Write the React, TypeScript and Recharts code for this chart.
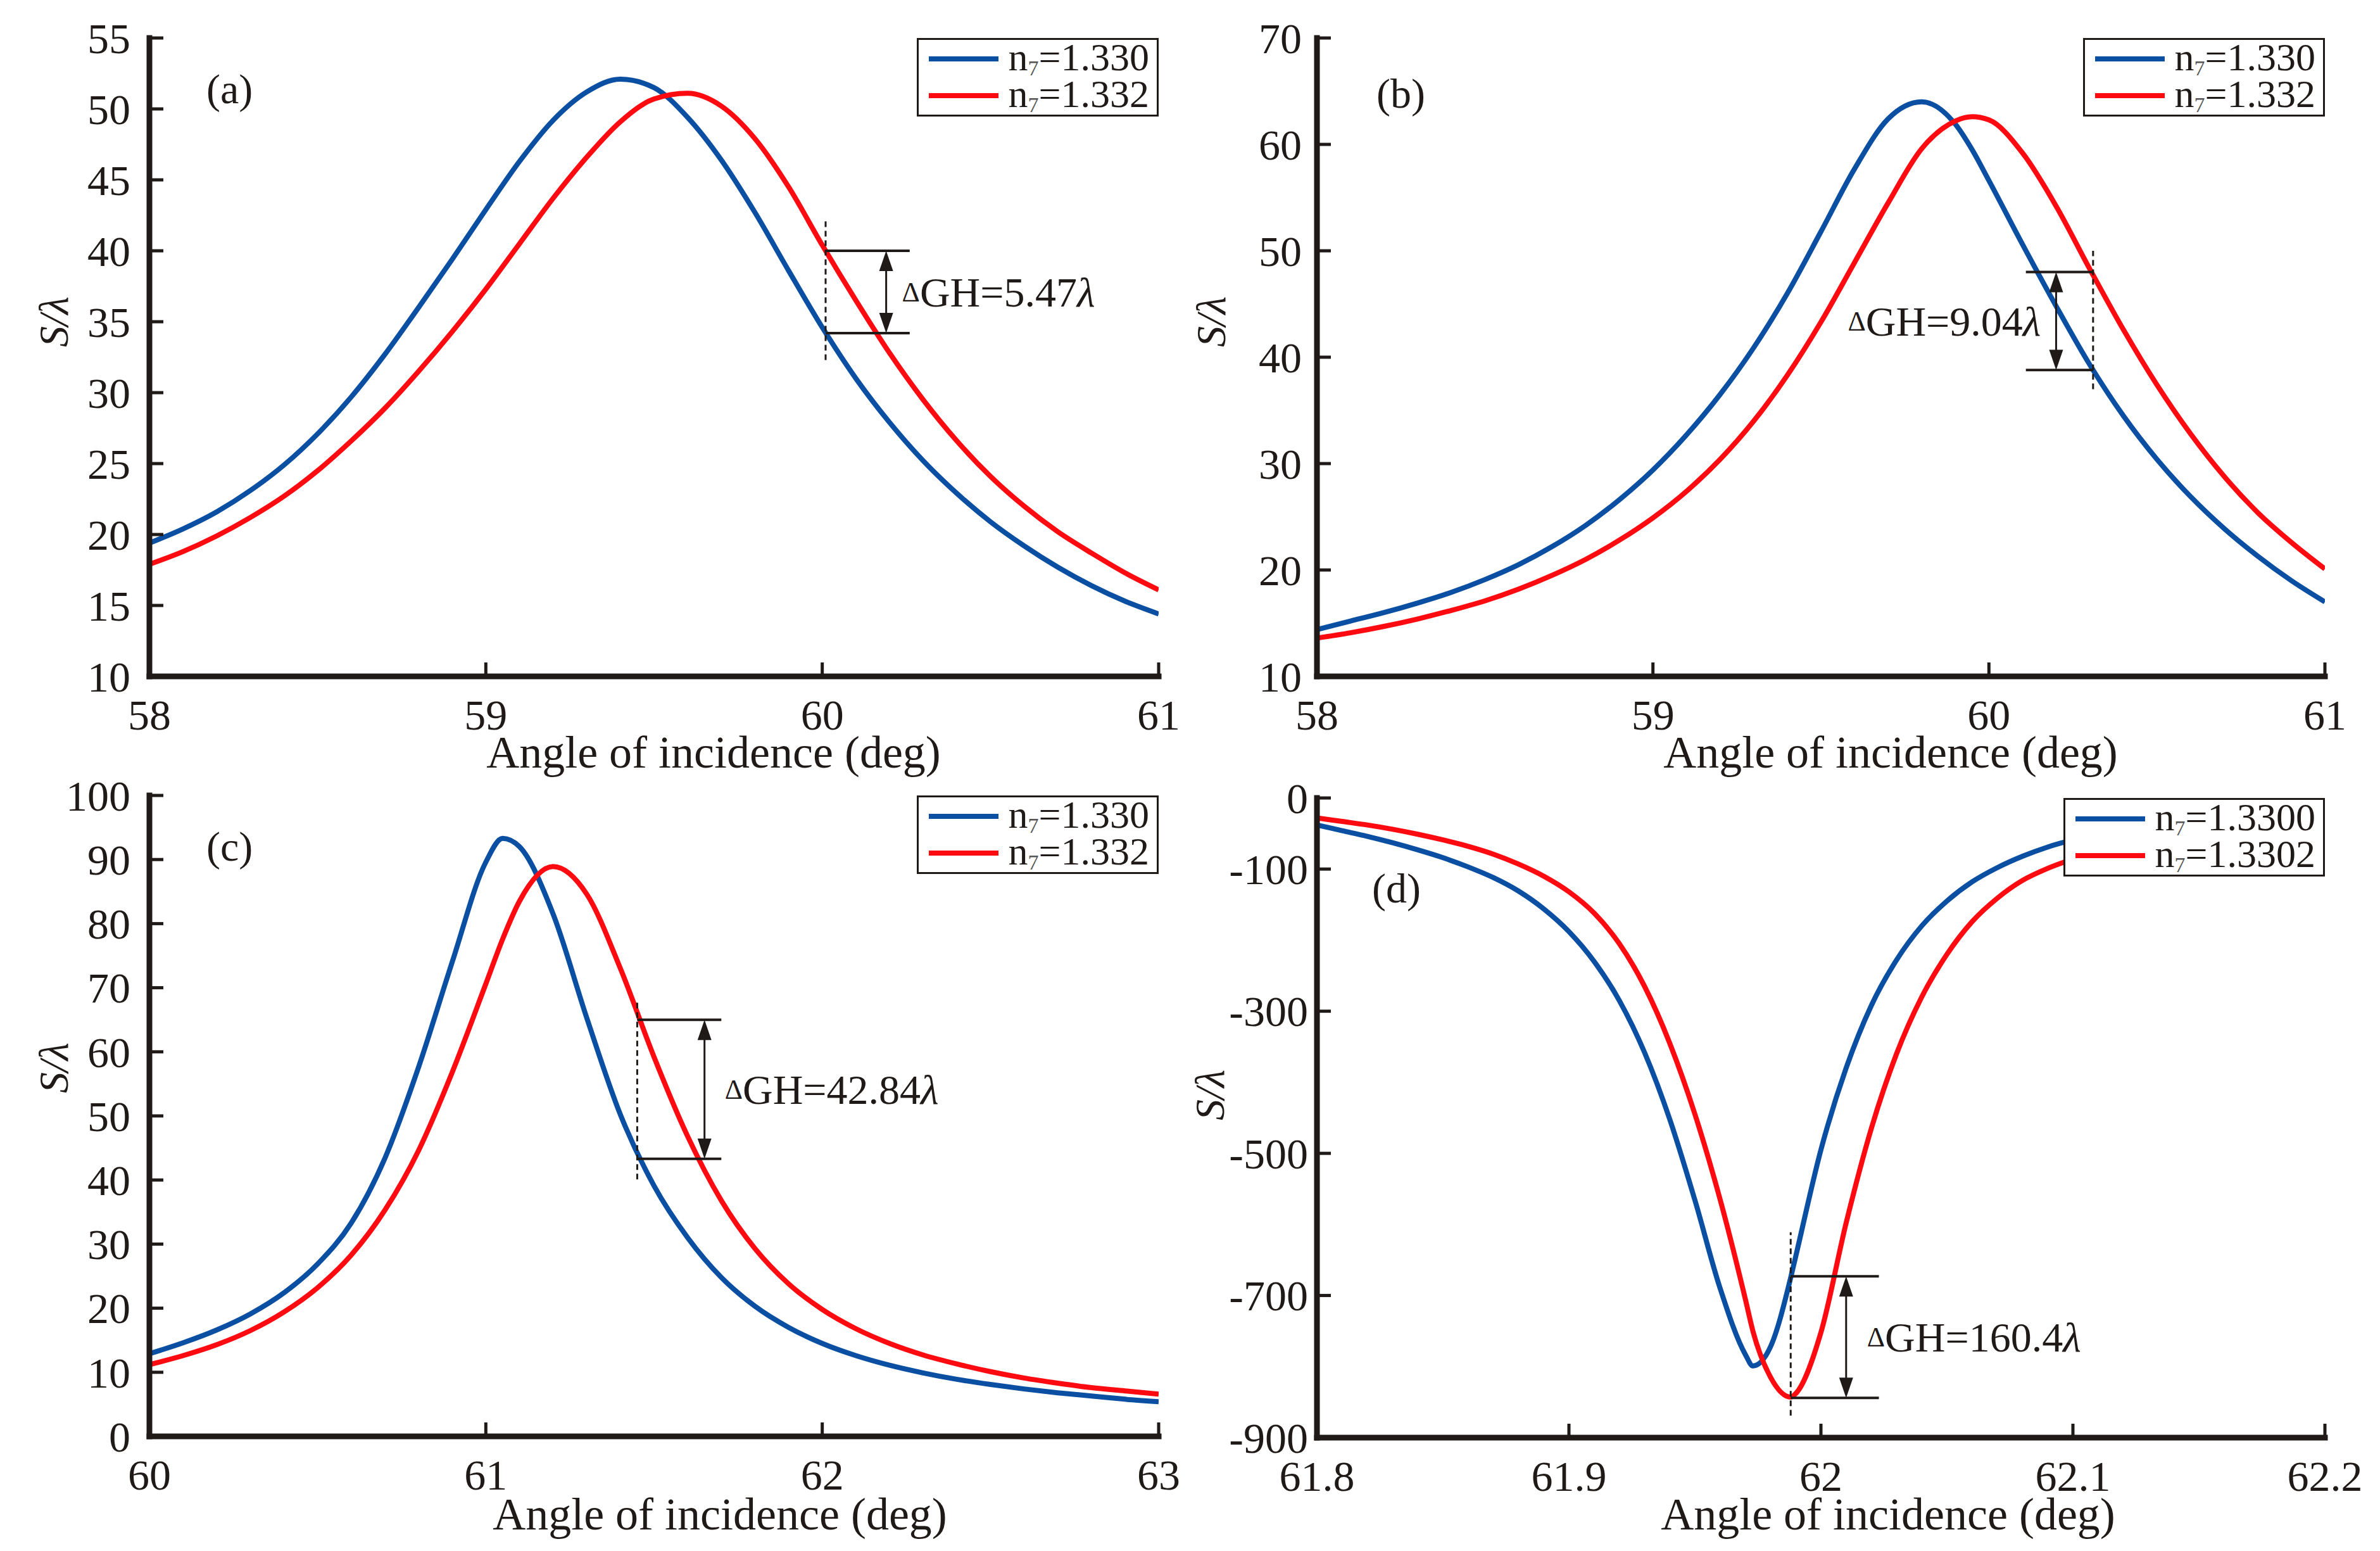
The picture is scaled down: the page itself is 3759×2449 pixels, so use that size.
import React from 'react';
import { LineChart, Line, XAxis, YAxis, ReferenceLine, Legend } from 'recharts';

const SERIF = "'Liberation Serif', 'Times New Roman', serif";
const INK = '#1f1a17';
const BLUE = '#0b4fa3';
const RED = '#ff0a10';

// panel (a)
const anglesA = [58.0, 58.1, 58.2, 58.3, 58.4, 58.5, 58.6, 58.7, 58.8, 58.9, 59.0, 59.1, 59.2, 59.3, 59.4, 59.5, 59.6, 59.7, 59.8, 59.9, 60.0, 60.1, 60.2, 60.3, 60.4, 60.5, 60.6, 60.7, 60.8, 60.9, 61.0];
const blueA = [19.4, 20.4, 21.6, 23.1, 24.9, 27.1, 29.7, 32.7, 36.0, 39.4, 42.9, 46.3, 49.2, 51.2, 52.1, 51.5, 49.4, 46.4, 42.7, 38.6, 34.6, 31.0, 27.9, 25.2, 22.9, 20.9, 19.2, 17.7, 16.4, 15.3, 14.4];
const redA = [17.9, 18.8, 19.9, 21.2, 22.7, 24.5, 26.6, 28.9, 31.5, 34.3, 37.3, 40.5, 43.7, 46.6, 49.1, 50.7, 51.1, 50.2, 47.9, 44.5, 40.4, 36.5, 32.8, 29.5, 26.6, 24.1, 22.0, 20.2, 18.7, 17.3, 16.1];

// panel (b)
const anglesB = [58.0, 58.1, 58.2, 58.3, 58.4, 58.5, 58.6, 58.7, 58.8, 58.9, 59.0, 59.1, 59.2, 59.3, 59.4, 59.5, 59.6, 59.7, 59.8, 59.9, 59.95, 60.0, 60.1, 60.2, 60.3, 60.4, 60.5, 60.6, 60.7, 60.8, 60.9, 61.0];
const blueB = [14.4, 15.2, 16.0, 16.9, 17.9, 19.1, 20.5, 22.2, 24.2, 26.6, 29.4, 32.7, 36.5, 40.9, 46.0, 51.8, 57.7, 62.4, 64.0, 61.9, 59.5, 56.6, 50.6, 44.8, 39.3, 34.5, 30.4, 26.9, 23.9, 21.3, 19.0, 17.0];
const redB = [13.6, 14.1, 14.7, 15.4, 16.2, 17.1, 18.2, 19.5, 21.0, 22.8, 24.9, 27.4, 30.4, 34.0, 38.3, 43.3, 48.9, 54.5, 59.6, 62.2, 62.6, 62.3, 59.2, 54.2, 48.3, 42.6, 37.4, 32.8, 28.8, 25.4, 22.6, 20.1];

// panel (c)
const anglesC = [60.0, 60.1, 60.2, 60.3, 60.4, 60.5, 60.6, 60.7, 60.8, 60.9, 61.0, 61.05, 61.1, 61.2, 61.3, 61.4, 61.5, 61.6, 61.7, 61.8, 61.9, 62.0, 62.1, 62.2, 62.3, 62.4, 62.5, 62.6, 62.7, 62.8, 62.9, 63.0];
const blueC = [12.9, 14.6, 16.6, 19.1, 22.4, 26.9, 33.3, 43.4, 57.6, 74.0, 89.6, 93.3, 92.0, 81.5, 65.3, 50.2, 39.1, 31.0, 24.8, 20.3, 17.0, 14.5, 12.6, 11.1, 9.9, 8.9, 8.1, 7.4, 6.8, 6.3, 5.8, 5.4];
const redC = [11.2, 12.6, 14.3, 16.5, 19.4, 23.2, 28.3, 35.3, 44.6, 56.8, 70.6, 77.6, 83.5, 88.9, 84.6, 73.0, 59.2, 46.8, 36.8, 29.3, 23.8, 19.8, 16.8, 14.5, 12.7, 11.3, 10.1, 9.1, 8.3, 7.6, 7.1, 6.6];

// panel (d)
const anglesD = [61.8, 61.81, 61.82, 61.83, 61.84, 61.85, 61.86, 61.87, 61.88, 61.89, 61.9, 61.91, 61.92, 61.93, 61.94, 61.95, 61.96, 61.97, 61.973, 61.98, 61.988, 61.99, 62.0, 62.01, 62.02, 62.03, 62.04, 62.05, 62.06, 62.07, 62.08, 62.09, 62.1, 62.11, 62.12, 62.13, 62.14, 62.15, 62.16, 62.17, 62.18, 62.19, 62.2];
const blueD = [-38, -46, -54, -63, -73, -84, -97, -112, -131, -156, -188, -230, -285, -358, -452, -566, -690, -783, -799, -772, -675, -645, -495, -380, -292, -228, -180, -145, -118, -98, -82, -69, -59, -51, -45, -40, -35, -31, -28, -25, -23, -21, -19];
const redD = [-28, -33, -38, -44, -51, -59, -68, -79, -93, -110, -132, -162, -205, -265, -345, -445, -565, -705, -750, -815, -843, -838, -752, -598, -465, -360, -280, -220, -174, -141, -116, -99, -86, -75, -66, -58, -51, -46, -41, -37, -34, -31, -28];

// ticks
const xTicksAB = [58, 59, 60, 61];
const yTicksA = [10, 15, 20, 25, 30, 35, 40, 45, 50, 55];
const yTicksB = [10, 20, 30, 40, 50, 60, 70];
const xTicksC = [60, 61, 62, 63];
const yTicksC = [0, 10, 20, 30, 40, 50, 60, 70, 80, 90, 100];
const xTicksD = [61.8, 61.9, 62, 62.1, 62.2];
const yTicksD = [0, -100, -300, -500, -700, -900];
const yRightTicksD = [-150, -300, -450, -600, -750];

// legend values and ΔGH annotations
const namesABC = ['1.330', '1.332'];
const namesD = ['1.3300', '1.3302'];
const shiftA = { text: '5.47', x: 60.01, dash: [32.3, 42.1], hi: 40.0, lo: 34.2, barEnd: 60.26, arrowX: 60.19 };
const shiftB = { text: '9.04', x: 60.31, dash: [37.0, 50.0], hi: 48.0, lo: 38.8, barEnd: 60.11, arrowX: 60.2 };
const shiftC = { text: '42.84', x: 61.45, dash: [40.1, 68.2], hi: 65.0, lo: 43.3, barEnd: 61.7, arrowX: 61.65 };
const shiftD = { text: '160.4', x: 61.988, dash: [-869, -611], hi: -673, lo: -844, barEnd: 62.023, arrowX: 62.01 };

const toPoints = (xs: number[], ys: number[]) => xs.map((x, i) => ({ x, y: ys[i] }));

function LegendBox({ payload }: any) {
  return (
    <div
      style={{
        background: '#fff',
        border: `3px solid ${INK}`,
        padding: '1px 12px 1px 16px',
        fontFamily: SERIF,
        fontSize: 62,
        color: INK,
        whiteSpace: 'nowrap',
      }}
    >
      {(payload || []).map((item: any) => (
        <div key={item.value} style={{ display: 'flex', alignItems: 'center', height: 58, overflow: 'visible' }}>
          <span style={{ display: 'inline-block', width: 110, height: 8, background: item.color, marginRight: 16 }} />
          <span style={{ lineHeight: '58px' }}>
            n<span style={{ fontSize: 34, lineHeight: '34px', color: '#555', verticalAlign: '-8px' }}>7</span>={item.value}
          </span>
        </div>
      ))}
    </div>
  );
}

const XTick = (p: any) => (
  <text className="serif-tick" x={p.x} y={p.y} dy="0.71em" textAnchor="middle" fontFamily={SERIF} fontSize={68} fill={INK}>
    {p.payload.value}
  </text>
);

const YTick = (p: any) => (
  <text className="serif-tick" x={p.x} y={p.y} dy="0.35em" textAnchor="end" fontFamily={SERIF} fontSize={68} fill={INK}>
    {p.payload.value}
  </text>
);

function arrowShape(text: string, side: 'left' | 'right', gap: number) {
  return (p: any) => {
    const x = p.x1;
    const top = Math.min(p.y1, p.y2);
    const bot = Math.max(p.y1, p.y2);
    const head = 32;
    const hw = 11;
    const mid = (top + bot) / 2;
    return (
      <g>
        <line x1={x} y1={top + head - 2} x2={x} y2={bot - head + 2} stroke={INK} strokeWidth={3} />
        <polygon points={`${x},${top} ${x - hw},${top + head} ${x + hw},${top + head}`} fill={INK} />
        <polygon points={`${x},${bot} ${x - hw},${bot - head} ${x + hw},${bot - head}`} fill={INK} />
        <text
          x={side === 'right' ? x + gap : x - gap}
          y={mid}
          textAnchor={side === 'right' ? 'start' : 'end'}
          dominantBaseline="central"
          fontFamily={SERIF}
          fontSize={66}
          fill={INK}
        >
          <tspan fontSize={44}>Δ</tspan>
          <tspan>GH={text}</tspan>
          <tspan fontStyle="italic">λ</tspan>
        </text>
      </g>
    );
  };
}

const frame = { stroke: INK, strokeWidth: 9, strokeLinecap: 'square' as const };
const tickLine = { stroke: INK, strokeWidth: 5 };

function Panel({ cfg }: { cfg: any }) {
  const { left, top, width, height, plot, xDomain, xTicks, yDomain, yTicks, yRightTicks, blue, red, names, shift, side, gap, letter, letterPos, yTitle, xTitle, yGap } = cfg;
  const margin = { top: plot.top, right: width - plot.right, bottom: 0, left: 0 };
  return (
    <div style={{ position: 'absolute', left, top, width, height }}>
      <LineChart width={width} height={height} margin={margin}>
        <XAxis
          type="number"
          dataKey="x"
          domain={xDomain}
          ticks={xTicks}
          interval={0}
          allowDataOverflow
          height={height - plot.bottom}
          tickSize={-22}
          tickMargin={58}
          axisLine={frame}
          tickLine={tickLine}
          tick={XTick}
          label={{
            content: () => (
              <text x={xTitle[0]} y={xTitle[1]} textAnchor="middle" dominantBaseline="central" fontFamily={SERIF} fontSize={72} fill={INK}>
                Angle of incidence (deg)
              </text>
            ),
          }}
        />
        <XAxis xAxisId="top" orientation="top" type="number" domain={xDomain} ticks={xTicks} interval={0} allowDataOverflow height={0} tickSize={-22} axisLine={frame} tickLine={tickLine} tick={false} />
        <YAxis
          type="number"
          domain={yDomain}
          ticks={yTicks}
          interval={0}
          allowDataOverflow
          width={plot.left}
          tickSize={-22}
          tickMargin={22 + yGap}
          axisLine={frame}
          tickLine={tickLine}
          tick={YTick}
          label={{
            content: () => (
              <text
                x={yTitle[0]}
                y={yTitle[1]}
                transform={`rotate(-90 ${yTitle[0]} ${yTitle[1]})`}
                textAnchor="middle"
                dominantBaseline="central"
                fontFamily={SERIF}
                fontSize={66}
                fontStyle="italic"
                fill={INK}
              >
                S/λ
              </text>
            ),
          }}
        />
        <YAxis yAxisId="right" orientation="right" type="number" domain={yDomain} ticks={yRightTicks} interval={0} allowDataOverflow width={0} tickSize={-22} axisLine={frame} tickLine={tickLine} tick={false} />
        <Line data={blue} dataKey="y" name={names[0]} type="monotone" stroke={BLUE} strokeWidth={8} dot={false} isAnimationActive={false} />
        <Line data={red} dataKey="y" name={names[1]} type="monotone" stroke={RED} strokeWidth={8} dot={false} isAnimationActive={false} />
        <ReferenceLine segment={[{ x: shift.x, y: shift.dash[0] }, { x: shift.x, y: shift.dash[1] }]} stroke={INK} strokeWidth={3} strokeDasharray="9 6" />
        <ReferenceLine segment={[{ x: shift.x, y: shift.hi }, { x: shift.barEnd, y: shift.hi }]} stroke={INK} strokeWidth={4} />
        <ReferenceLine segment={[{ x: shift.x, y: shift.lo }, { x: shift.barEnd, y: shift.lo }]} stroke={INK} strokeWidth={4} />
        <ReferenceLine segment={[{ x: shift.arrowX, y: shift.hi }, { x: shift.arrowX, y: shift.lo }]} shape={arrowShape(shift.text, side, gap)} />
        <Legend
          layout="vertical"
          align="center"
          verticalAlign="middle"
          content={LegendBox}
          wrapperStyle={{ top: plot.top, right: width - plot.right, left: 'auto', width: 'auto', height: 'auto' }}
        />
      </LineChart>
      <div
        style={{
          position: 'absolute',
          left: letterPos[0],
          top: letterPos[1] - 37,
          fontFamily: SERIF,
          fontSize: 66,
          lineHeight: '66px',
          color: INK,
        }}
      >
        {letter}
      </div>
    </div>
  );
}

const panels = [
  {
    letter: '(a)', left: 0, top: 0, width: 1880, height: 1225,
    plot: { left: 236, right: 1830, top: 60, bottom: 1068 },
    xDomain: [58, 61], xTicks: xTicksAB, yDomain: [10, 55], yTicks: yTicksA, yRightTicks: yTicksA,
    blue: toPoints(anglesA, blueA), red: toPoints(anglesA, redA), names: namesABC,
    shift: shiftA, side: 'right', gap: 25, yGap: 30,
    letterPos: [326, 145], yTitle: [84, 508], xTitle: [1127, 1188],
  },
  {
    letter: '(b)', left: 1880, top: 0, width: 1879, height: 1225,
    plot: { left: 200, right: 1792, top: 60, bottom: 1068 },
    xDomain: [58, 61], xTicks: xTicksAB, yDomain: [10, 70], yTicks: yTicksB, yRightTicks: yTicksB,
    blue: toPoints(anglesB, blueB), red: toPoints(anglesB, redB), names: namesABC,
    shift: shiftB, side: 'left', gap: 24, yGap: 24,
    letterPos: [294, 152], yTitle: [32, 508], xTitle: [1106, 1188],
  },
  {
    letter: '(c)', left: 0, top: 1225, width: 1880, height: 1224,
    plot: { left: 236, right: 1830, top: 31, bottom: 1043 },
    xDomain: [60, 63], xTicks: xTicksC, yDomain: [0, 100], yTicks: yTicksC, yRightTicks: yTicksC,
    blue: toPoints(anglesC, blueC), red: toPoints(anglesC, redC), names: namesABC,
    shift: shiftC, side: 'right', gap: 32, yGap: 30,
    letterPos: [326, 116], yTitle: [84, 461], xTitle: [1137, 1166],
  },
  {
    letter: '(d)', left: 1880, top: 1225, width: 1879, height: 1224,
    plot: { left: 200, right: 1792, top: 35, bottom: 1045 },
    xDomain: [61.8, 62.2], xTicks: xTicksD, yDomain: [-900, 0], yTicks: yTicksD, yRightTicks: yRightTicksD,
    blue: toPoints(anglesD, blueD), red: toPoints(anglesD, redD), names: namesD,
    shift: shiftD, side: 'right', gap: 33, yGap: 14,
    letterPos: [287, 182], yTitle: [30, 504], xTitle: [1102, 1166],
  },
];

export default function App() {
  return (
    <div style={{ position: 'absolute', left: 0, top: 0, width: 3759, height: 2449, background: '#fff', overflow: 'hidden' }}>
      <style>{`.recharts-surface { overflow: visible; } .recharts-surface text, .serif-tick { font-family: ${SERIF} !important; }`}</style>
      {panels.map((p) => (
        <Panel key={p.letter} cfg={p} />
      ))}
    </div>
  );
}
